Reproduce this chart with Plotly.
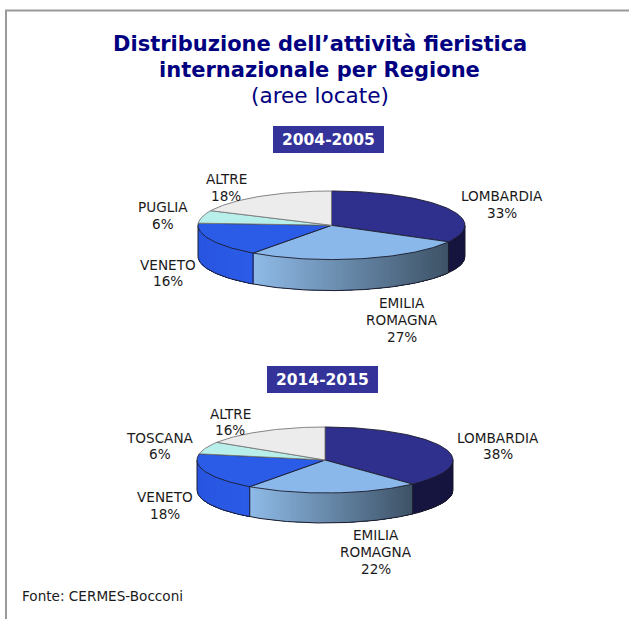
import numpy as np
import plotly.graph_objects as go

# ---- data ----
TITLE_LINE_1 = "Distribuzione dell’attività fieristica"
TITLE_LINE_2 = "internazionale per Regione"
SUBTITLE = "(aree locate)"
SOURCE = "Fonte: CERMES-Bocconi"

period_a = "2004-2005"
regions_a = ["LOMBARDIA", "EMILIA<br>ROMAGNA", "VENETO", "PUGLIA", "ALTRE"]
values_a = [33, 27, 16, 6, 18]

period_b = "2014-2015"
regions_b = ["LOMBARDIA", "EMILIA<br>ROMAGNA", "VENETO", "TOSCANA", "ALTRE"]
values_b = [38, 22, 18, 6, 16]

# ---- styling ----
W, H = 629, 619
TOP_COLORS = ["#2f2f8e", "#8ab8ea", "#2b5ce8", "#b9efea", "#ececec"]
SIDE_START = ["#15153f", "#8fbbe8", "#2855e0", "#8fd0cc", "#bbbbbb"]
SIDE_END = ["#15153f", "#3d5266", "#2b5ce8", "#8fd0cc", "#bbbbbb"]
FONT = "DejaVu Sans"
LABEL_SIZE = 13.6
LINE_STEP = 16.8
NAVY = "#000080"
EDGE = "#1c1c2c"

GEOM_A = dict(cx=331.5, cy=225.3, rx=133.5, ry=34.3, depth=31)
GEOM_B = dict(cx=325, cy=460, rx=128, ry=33, depth=30)
LABEL_POS_A = [(502, 204.5), (402, 319.7), (168, 273), (163, 215.5), (226, 187.5)]
LABEL_POS_B = [(498, 446), (376, 552.2), (165, 505.5), (160, 446), (230, 422)]

fig = go.Figure()


def hex2rgb(c):
    return np.array([int(c[i:i + 2], 16) for i in (1, 3, 5)], float)


def mix(a, b, t):
    v = hex2rgb(a) * (1 - t) + hex2rgb(b) * t
    return "rgb(%d,%d,%d)" % tuple(np.round(v))


def ell(g, deg):
    r = np.radians(deg)
    return g["cx"] + g["rx"] * np.sin(r), g["cy"] - g["ry"] * np.cos(r)


def poly(x, y, fill, line=None, width=0.0):
    fig.add_trace(go.Scatter(
        x=list(x), y=list(y), mode="lines", fill="toself", fillcolor=fill,
        line=dict(color=line or fill, width=width),
        hoverinfo="skip", showlegend=False))


def draw_pie(values, g):
    total = sum(values)
    edges = np.concatenate([[0], np.cumsum(values)]) * 360.0 / total
    d = g["depth"]
    # front wall: overlapping strips, painted left to right across each wedge,
    # so the gradient can follow x without seams showing through
    for i in range(len(values)):
        a0, a1 = max(edges[i], 90.0), min(edges[i + 1], 270.0)
        if a1 <= a0:
            continue
        n = max(1, int((a1 - a0) / 1.5))
        steps = np.linspace(a0, a1, n + 1)
        xl, _ = ell(g, a1)
        xr, _ = ell(g, a0)
        for k in range(n, 0, -1):
            arc = np.linspace(a0, steps[k], max(2, k + 1))
            xs, ys = ell(g, arc)
            xm = ell(g, (steps[k] + steps[k - 1]) / 2)[0]
            t = (xm - xl) / max(xr - xl, 1e-6)
            col = mix(SIDE_START[i], SIDE_END[i], t)
            px = list(xs) + list(xs[::-1]) + [xs[0]]
            py = list(ys) + list((ys + d)[::-1]) + [ys[0]]
            poly(px, py, col)
    # wall outline and wedge seams
    arc = np.linspace(90, 270, 181)
    ax, ay = ell(g, arc)
    fig.add_trace(go.Scatter(
        x=list(ax), y=list(ay + d),
        mode="lines", line=dict(color=EDGE, width=1),
        hoverinfo="skip", showlegend=False))
    for a in list(edges[1:-1]) + [90.0, 270.0]:
        if 90 <= a <= 270:
            xa, ya = ell(g, a)
            fig.add_trace(go.Scatter(
                x=[xa, xa], y=[ya, ya + d], mode="lines",
                line=dict(color=EDGE, width=1), hoverinfo="skip", showlegend=False))
    # top face
    for i in range(len(values)):
        t = np.linspace(edges[i], edges[i + 1], max(3, int(edges[i + 1] - edges[i]) + 1))
        ex, ey = ell(g, t)
        x = [g["cx"]] + list(ex) + [g["cx"]]
        y = [g["cy"]] + list(ey) + [g["cy"]]
        light = i >= 3
        poly(x, y, TOP_COLORS[i], "#777777" if light else EDGE, 0.9)


def add_label(x, y, text, size=LABEL_SIZE, color="#1a1a1a", bold=False, align="center", anchor="center"):
    fig.add_annotation(
        x=x, y=y, xref="x", yref="y", text=f"<b>{text}</b>" if bold else text,
        showarrow=False, align=align, xanchor=anchor, yanchor="middle",
        font=dict(family=FONT, size=size, color=color))


draw_pie(values_a, GEOM_A)
draw_pie(values_b, GEOM_B)

for names, vals, pos in [(regions_a, values_a, LABEL_POS_A), (regions_b, values_b, LABEL_POS_B)]:
    for nm, v, (lx, ly) in zip(names, vals, pos):
        lines = nm.split("<br>") + [f"{v}%"]
        for j, part in enumerate(lines):
            add_label(lx, ly + (j - (len(lines) - 1) / 2) * LINE_STEP, part)

# frame
FRAME = "#9a9a9a"
fig.add_shape(type="line", xref="x", yref="y", x0=6, x1=6, y0=10.5, y1=H, line=dict(color=FRAME, width=2))
fig.add_shape(type="line", xref="x", yref="y", x0=5, x1=W, y0=10.5, y1=10.5, line=dict(color=FRAME, width=2))

# period boxes
for (x0, x1, y0, y1, txt) in [(273, 384, 126, 153, period_a), (267, 378, 366, 393, period_b)]:
    fig.add_shape(type="rect", xref="x", yref="y", x0=x0, x1=x1, y0=y0, y1=y1,
                  fillcolor="#333399", line=dict(width=0), layer="below")
    add_label((x0 + x1) / 2 - 0.5, (y0 + y1) / 2, txt, size=15.5, color="white", bold=True)

# titles
add_label(319.5, 44, TITLE_LINE_1, size=21, color=NAVY, bold=True)
add_label(319.5, 69.5, TITLE_LINE_2, size=21, color=NAVY, bold=True)
add_label(319.5, 95, SUBTITLE, size=21.6, color=NAVY)
add_label(20, 596, SOURCE, size=13.6, anchor="left", align="left")

fig.update_layout(
    width=W, height=H, margin=dict(l=0, r=0, t=0, b=0), autosize=False,
    paper_bgcolor="white", plot_bgcolor="white", showlegend=False,
    xaxis=dict(range=[0, W], visible=False, fixedrange=True),
    yaxis=dict(range=[H, 0], visible=False, fixedrange=True),
)
fig.write_html("out.html", config=dict(displayModeBar=False),
               post_script="document.body.style.margin='0';document.body.style.overflow='hidden';")
